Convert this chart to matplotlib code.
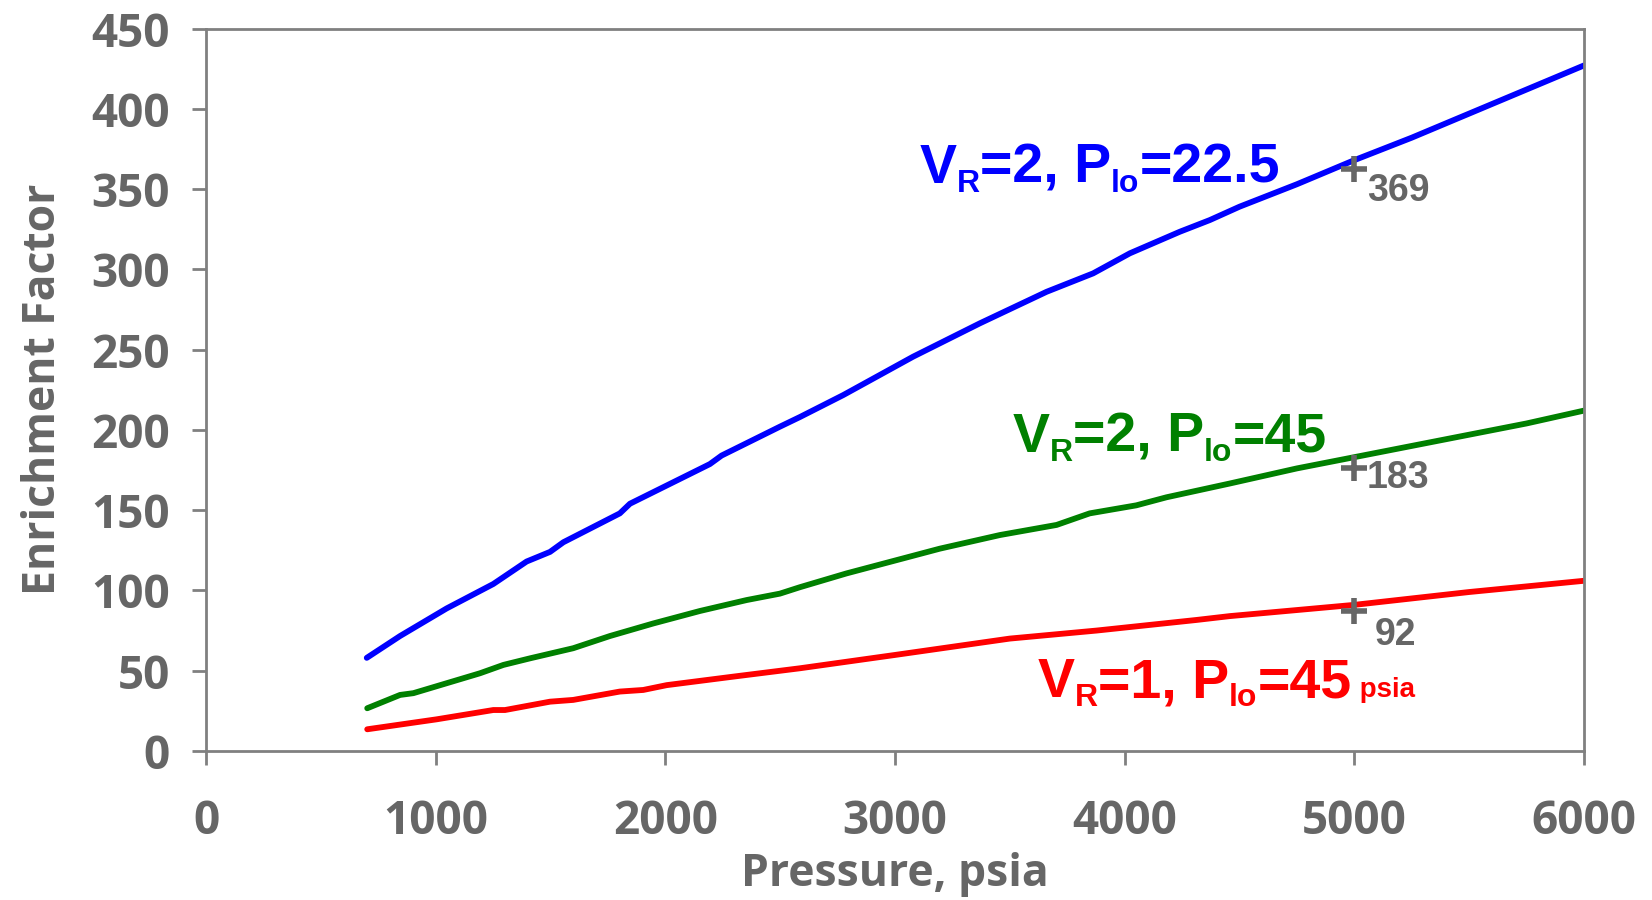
import matplotlib
matplotlib.use("Agg")
import matplotlib.pyplot as plt

# Datos (presion en psia, factor de enriquecimiento)
p_azul = [700, 845, 1048, 1251, 1396, 1498, 1556, 1802, 1846, 2194, 2245, 2499, 2586,
          2775, 3079, 3370, 3660, 3863, 4023, 4240, 4371, 4500, 4750, 5000, 5250, 5500,
          5750, 6000]
ef_azul = [58, 71.6, 88.8, 104, 118, 124, 130, 148, 154, 178.7, 184, 202, 208,
           221.7, 245.6, 266.4, 286, 297.5, 310, 323.4, 330.7, 339, 353, 368, 382, 397,
           412, 427]

p_verde = [702, 845, 903, 1193, 1295, 1411, 1599, 1759, 1947, 2151, 2354, 2499, 2586,
           2789, 3195, 3457, 3704, 3848, 4051, 4182, 4458, 4750, 5000, 5250, 5500, 5750, 6000]
ef_verde = [26.6, 34.9, 36, 48.4, 53.6, 57.7, 64, 71.6, 79.4, 87.2, 94, 98, 102,
            110.6, 126, 134.5, 140.8, 148, 153, 158, 166.6, 176, 183, 190, 197, 204, 212]

p_rojo = [702, 1004, 1251, 1302, 1498, 1599, 1802, 1904, 2006, 2296, 2586, 3000, 3500,
          3878, 4313, 4458, 5000, 5500, 6000]
ef_rojo = [13.5, 19.7, 25.5, 25.5, 30.7, 31.8, 37, 38, 41, 46.3, 51.5, 59.8, 70,
           75, 81.6, 84, 91, 99, 106]

# Puntos marcados a 5000 psia
p_marca = [5000, 5000, 5000]
ef_marca = [362.5, 176, 87]
txt_marca = ["369", "183", "92"]

GRIS = "#666666"
EJE = "#808080"

fig = plt.figure(figsize=(16.52, 9), dpi=100)
ax = fig.add_axes([0.1247, 0.1656, 0.8341, 0.8027])

ax.plot(p_azul, ef_azul, color="#0000FF", lw=4.2, solid_capstyle="round")
ax.plot(p_verde, ef_verde, color="#008000", lw=4.2, solid_capstyle="round")
ax.plot(p_rojo, ef_rojo, color="#FF0000", lw=4.2, solid_capstyle="round")

ax.plot(p_marca, ef_marca, ls="none", marker="+", ms=19, mew=4, color=GRIS)
for y, t in zip([342.3, 163.6, 66], txt_marca):
    ax.text(5055 if t != "92" else 5090, y, t, color=GRIS, fontsize=27,
            fontweight="bold", family="Liberation Sans", va="baseline", ha="left")


def etiqueta(x, y, partes, color):
    # texto con subindices, pieza a pieza sobre la misma linea base
    prev = None
    for s, size, dy in partes:
        kw = dict(color=color, fontsize=size, fontweight="bold",
                  family="Liberation Sans", va="baseline", ha="left")
        if prev is None:
            prev = ax.text(x, y, s, **kw)
        else:
            prev = ax.annotate(s, xy=(1, y), xycoords=(prev, "data"),
                               xytext=(0, dy), textcoords="offset points", **kw)


etiqueta(3108, 353.8, [("V", 40, 0), ("R", 23, -6.5), ("=2, P", 40, 0),
                       ("lo", 23, -6.5), ("=22.5", 40, 0)], "#0000FF")
etiqueta(3513, 186.4, [("V", 40, 0), ("R", 23, -6.5), ("=2, P", 40, 0),
                       ("lo", 23, -6.5), ("=45", 40, 0)], "#008000")
etiqueta(3622, 33.6, [("V", 40, 0), ("R", 23, -6.5), ("=1, P", 40, 0),
                      ("lo", 23, -6.5), ("=45", 40, 0), (" psia", 20, 0)], "#FF0000")

ax.set_xlim(0, 6000)
ax.set_ylim(0, 450)
ax.set_xticks(range(0, 6001, 1000))
ax.set_yticks(range(0, 451, 50))

for sp in ax.spines.values():
    sp.set_color(EJE)
    sp.set_linewidth(2)

ax.tick_params(axis="both", direction="out", length=10, width=2, color=EJE,
               labelcolor=GRIS, labelsize=33)
ax.tick_params(axis="x", pad=24)
ax.tick_params(axis="y", pad=16)
for lab in ax.get_xticklabels() + ax.get_yticklabels():
    lab.set_family("Open Sans")
    lab.set_fontweight("bold")

ax.set_xlabel("Pressure, psia", color=GRIS, fontsize=32, fontweight="bold",
              family="Open Sans")
ax.set_ylabel("Enrichment Factor", color=GRIS, fontsize=32, fontweight="bold",
              family="Open Sans")
ax.xaxis.set_label_coords(0.5, -0.171)
ax.yaxis.set_label_coords(-0.118, 0.5)
ax.xaxis.label.set_va("center")
ax.yaxis.label.set_va("center")

fig.savefig("out.png", dpi=100)
